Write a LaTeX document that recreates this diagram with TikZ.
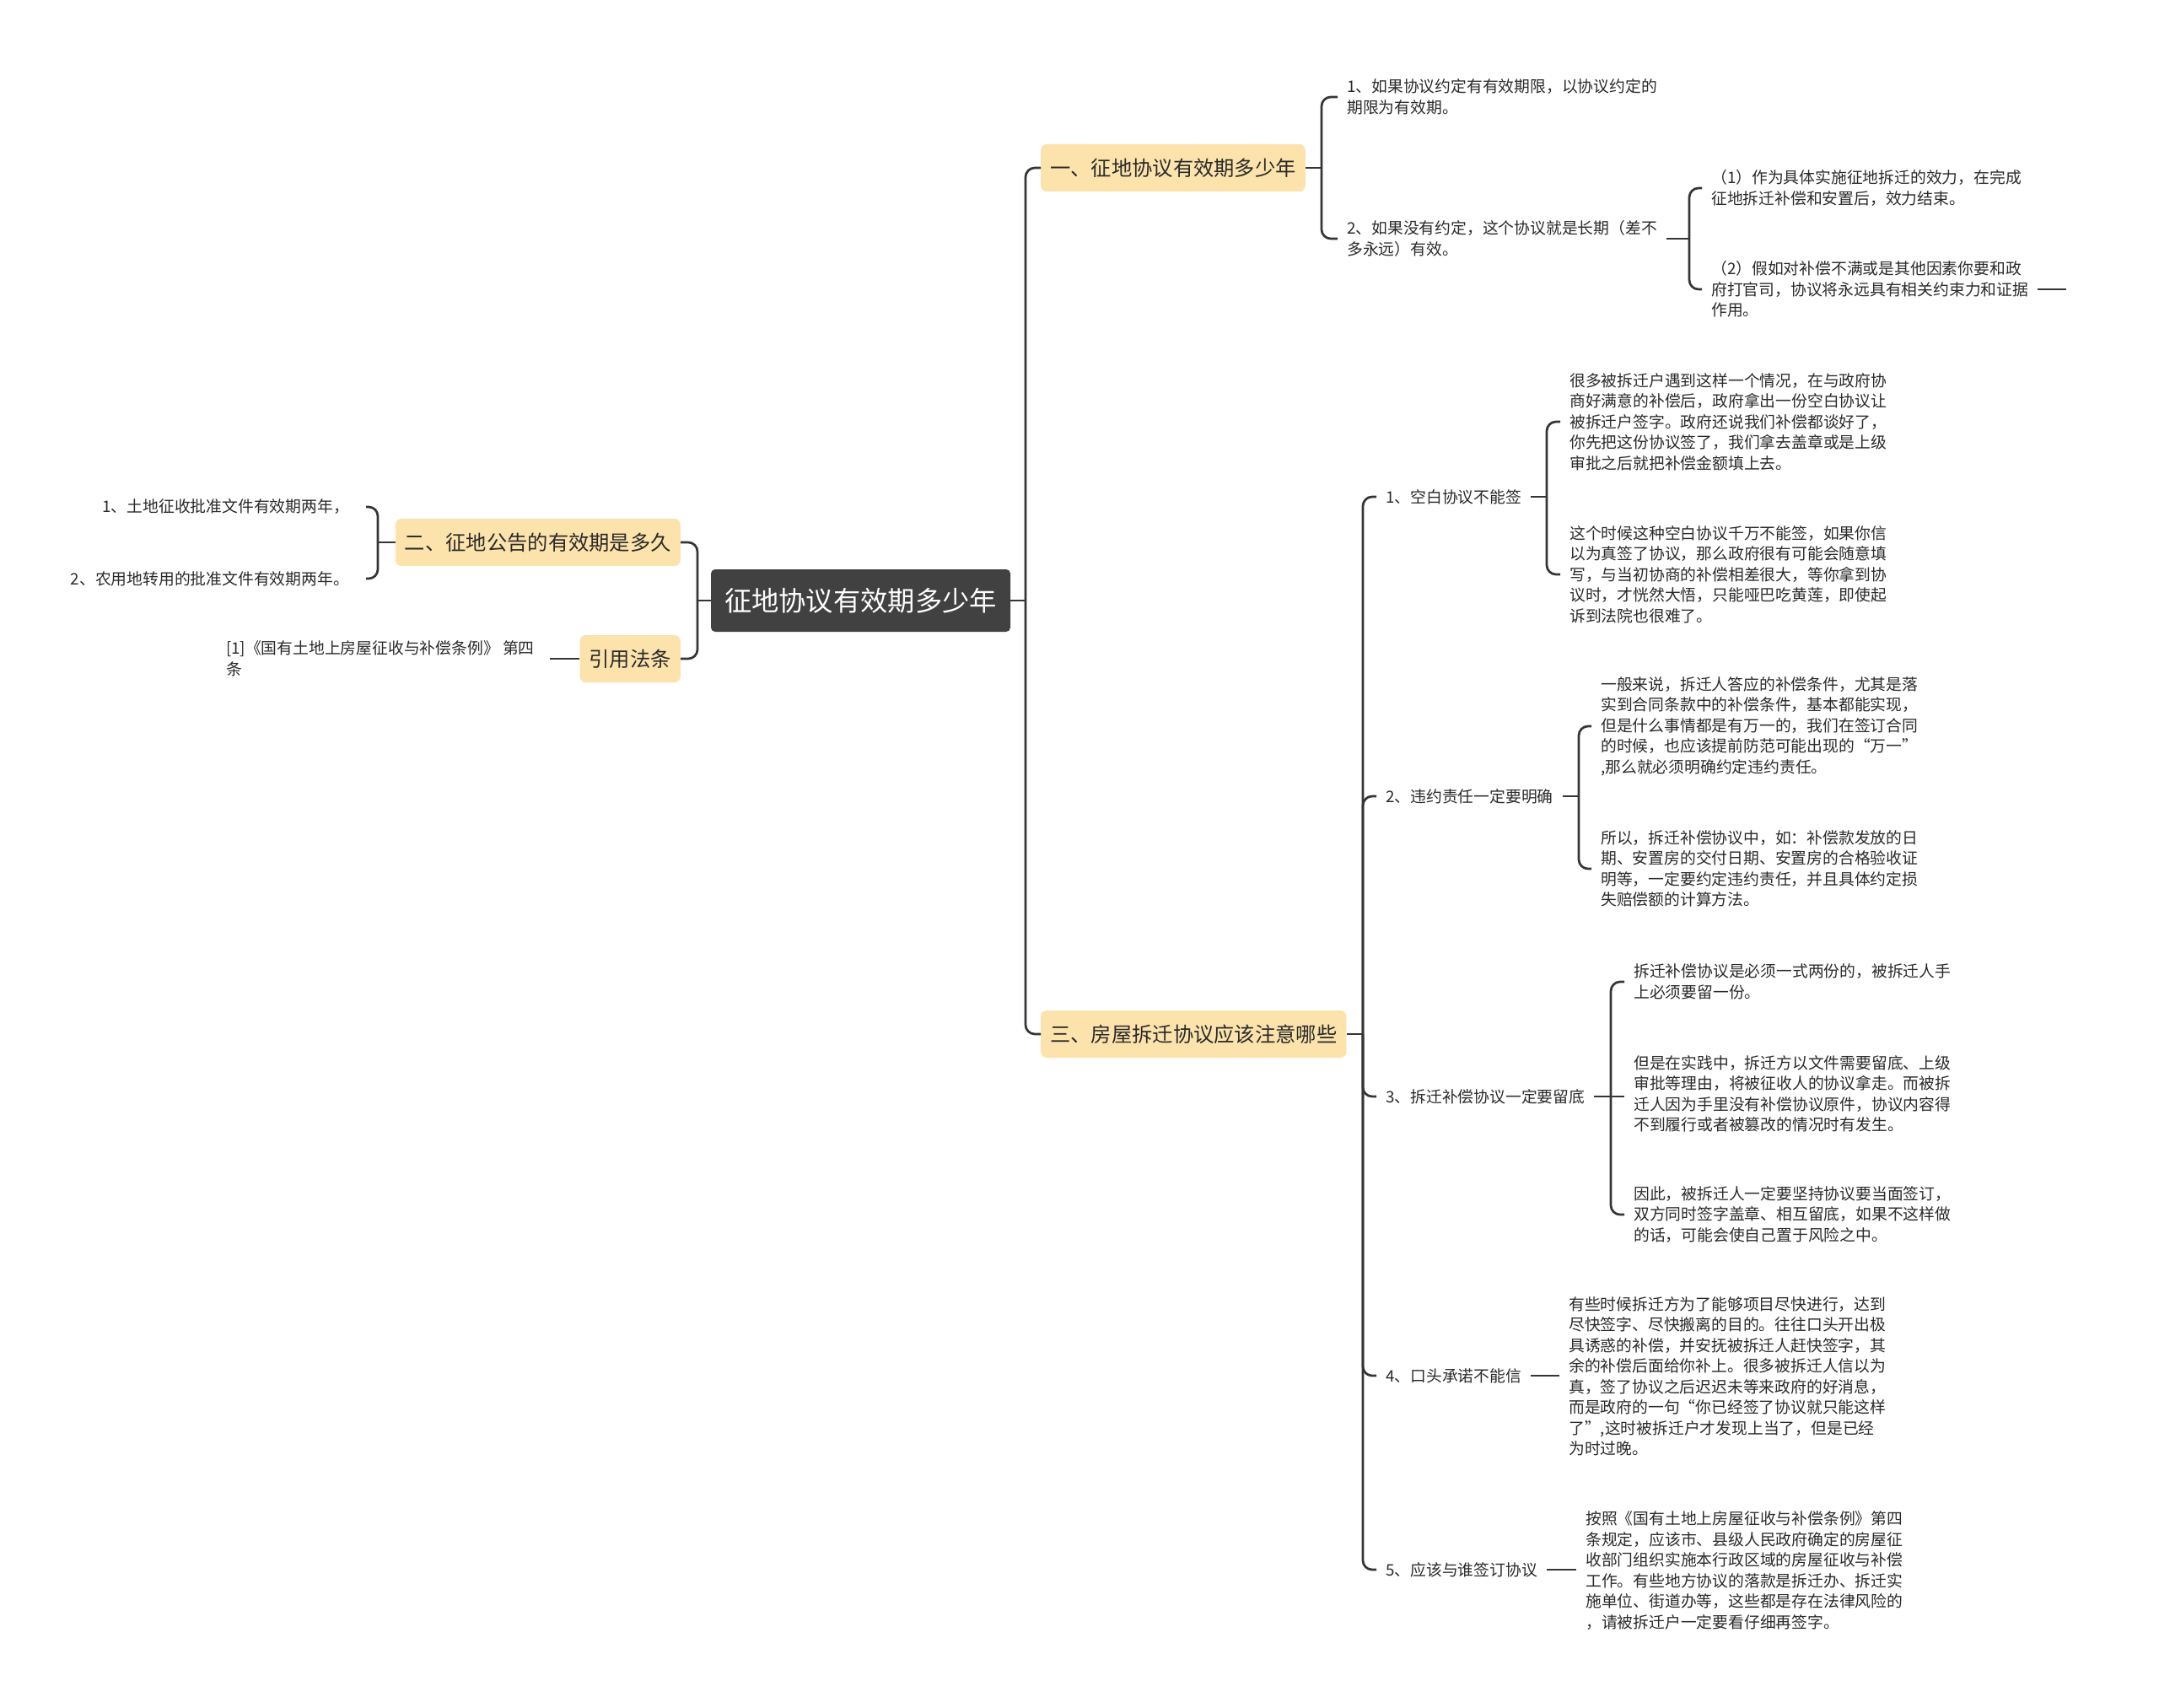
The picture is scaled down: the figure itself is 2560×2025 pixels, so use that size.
\documentclass[tikz,border=0pt]{standalone}
\usepackage{fontspec}
\setmainfont{Noto Sans CJK SC}
\definecolor{linec}{HTML}{353535}
\definecolor{rootc}{HTML}{414141}
\definecolor{topicc}{HTML}{FCE3AC}
\definecolor{textc}{HTML}{2A2A2A}
\tikzset{
  conn/.style={draw=linec, line width=2.7pt},
  rconn/.style={conn, rounded corners=11pt},
  rootbox/.style={fill=rootc, text=white, rounded corners=5pt, font=\fontsize{32.3}{36}\selectfont, minimum width=355pt, minimum height=74pt, inner sep=0pt},
  topic/.style={fill=topicc, text=textc, rounded corners=7pt, font=\fontsize{24.3}{28}\selectfont, minimum height=56pt, inner xsep=11pt, inner ysep=0pt},
  leaf/.style={text=textc, font=\fontsize{18.8}{24.5}\selectfont, align=left, inner xsep=11pt, inner ysep=1pt, anchor=west},
  leafr/.style={text=textc, font=\fontsize{18.8}{24.5}\selectfont, align=right, inner xsep=20pt, inner ysep=1pt, anchor=east}
}
\begin{document}
\begin{tikzpicture}[x=1pt,y=-1pt]
\useasboundingbox[fill=white] (0,0) rectangle (2560,2025);

% main nodes
\node[rootbox] (root) at (1020.5,712) {征地协议有效期多少年};
\node[topic,anchor=west] (n1) at (1234,199) {一、征地协议有效期多少年};
\node[topic,anchor=west] (n3) at (1234,1226) {三、房屋拆迁协议应该注意哪些};
\node[topic,anchor=east] (n2) at (807,643) {二、征地公告的有效期是多久};
\node[topic,anchor=east] (n4) at (807,781) {引用法条};

% branch one
\node[leaf] (a1) at (1586,115) {1、如果协议约定有有效期限，以协议约定的\\期限为有效期。};
\node[leaf] (a2) at (1586,283) {2、如果没有约定，这个协议就是长期（差不\\多永远）有效。};
\node[leaf] (g1) at (2018,223) {（1）作为具体实施征地拆迁的效力，在完成\\征地拆迁补偿和安置后，效力结束。};
\node[leaf] (g2) at (2018,343) {（2）假如对补偿不满或是其他因素你要和政\\府打官司，协议将永远具有相关约束力和证据\\作用。};

% branch three
\node[leaf] (b1) at (1632,589) {1、空白协议不能签};
\node[leaf] (b2) at (1632,944) {2、违约责任一定要明确};
\node[leaf] (b3) at (1632,1300) {3、拆迁补偿协议一定要留底};
\node[leaf] (b4) at (1632,1631) {4、口头承诺不能信};
\node[leaf] (b5) at (1632,1861) {5、应该与谁签订协议};

\node[leaf] (c1) at (1850,500) {很多被拆迁户遇到这样一个情况，在与政府协\\商好满意的补偿后，政府拿出一份空白协议让\\被拆迁户签字。政府还说我们补偿都谈好了，\\你先把这份协议签了，我们拿去盖章或是上级\\审批之后就把补偿金额填上去。};
\node[leaf] (c2) at (1850,681) {这个时候这种空白协议千万不能签，如果你信\\以为真签了协议，那么政府很有可能会随意填\\写，与当初协商的补偿相差很大，等你拿到协\\议时，才恍然大悟，只能哑巴吃黄莲，即使起\\诉到法院也很难了。};
\node[leaf] (c3) at (1887,861) {一般来说，拆迁人答应的补偿条件，尤其是落\\实到合同条款中的补偿条件，基本都能实现，\\但是什么事情都是有万一的，我们在签订合同\\的时候，也应该提前防范可能出现的“万一”\\,那么就必须明确约定违约责任。};
\node[leaf] (c4) at (1887,1030) {所以，拆迁补偿协议中，如：补偿款发放的日\\期、安置房的交付日期、安置房的合格验收证\\明等，一定要约定违约责任，并且具体约定损\\失赔偿额的计算方法。};
\node[leaf] (c5) at (1926,1164) {拆迁补偿协议是必须一式两份的，被拆迁人手\\上必须要留一份。};
\node[leaf] (c6) at (1926,1297) {但是在实践中，拆迁方以文件需要留底、上级\\审批等理由，将被征收人的协议拿走。而被拆\\迁人因为手里没有补偿协议原件，协议内容得\\不到履行或者被篡改的情况时有发生。};
\node[leaf] (c7) at (1926,1440) {因此，被拆迁人一定要坚持协议要当面签订，\\双方同时签字盖章、相互留底，如果不这样做\\的话，可能会使自己置于风险之中。};
\node[leaf] (c8) at (1849,1632) {有些时候拆迁方为了能够项目尽快进行，达到\\尽快签字、尽快搬离的目的。往往口头开出极\\具诱惑的补偿，并安抚被拆迁人赶快签字，其\\余的补偿后面给你补上。很多被拆迁人信以为\\真，签了协议之后迟迟未等来政府的好消息，\\而是政府的一句“你已经签了协议就只能这样\\了”,这时被拆迁户才发现上当了，但是已经\\为时过晚。};
\node[leaf] (c9) at (1869,1862) {按照《国有土地上房屋征收与补偿条例》第四\\条规定，应该市、县级人民政府确定的房屋征\\收部门组织实施本行政区域的房屋征收与补偿\\工作。有些地方协议的落款是拆迁办、拆迁实\\施单位、街道办等，这些都是存在法律风险的\\，请被拆迁户一定要看仔细再签字。};

% left side
\node[leafr] (d1) at (434,601) {1、土地征收批准文件有效期两年，};
\node[leafr] (d2) at (434,686) {2、农用地转用的批准文件有效期两年。};
\node[leafr,align=left,inner xsep=18pt] (d3) at (652,781) {[1]《国有土地上房屋征收与补偿条例》 第四\\条};

% connectors: root
\coordinate (jr) at (1216,712);
\draw[conn] (root.east) -- (jr);
\draw[rconn] (jr) |- (n1.west);
\draw[rconn] (jr) |- (n3.west);
\coordinate (jl) at (827,712);
\draw[conn] (root.west) -- (jl);
\draw[rconn] (jl) |- (n2.east);
\draw[rconn] (jl) |- (n4.east);

% branch one
\coordinate (jn1) at (1567,199);
\draw[conn] (n1.east) -- (jn1);
\draw[rconn] (jn1) |- (a1.west);
\draw[rconn] (jn1) |- (a2.west);
\coordinate (ja2) at (2003,283);
\draw[conn] (a2.east) -- (ja2);
\draw[rconn] (ja2) |- (g1.west);
\draw[rconn] (ja2) |- (g2.west);
\draw[conn] (g2.east) -- ++(34,0) coordinate (g2tail);

% branch three
\coordinate (jn3) at (1616,1226);
\draw[conn] (n3.east) -- (jn3);
\foreach \b in {b1,b2,b3,b4,b5} { \draw[rconn] (jn3) |- (\b.west); }
\coordinate (jb1) at (1834,589);
\draw[conn] (b1.east) -- (jb1);
\draw[rconn] (jb1) |- (c1.west);
\draw[rconn] (jb1) |- (c2.west);
\coordinate (jb2) at (1872,944);
\draw[conn] (b2.east) -- (jb2);
\draw[rconn] (jb2) |- (c3.west);
\draw[rconn] (jb2) |- (c4.west);
\coordinate (jb3) at (1910,1300);
\draw[conn] (b3.east) -- (jb3);
\draw[rconn] (jb3) |- (c5.west);
\draw[conn] (jb3) -- (jb3 -| c6.west);
\draw[rconn] (jb3) |- (c7.west);
\draw[conn] (b4.east) -- (b4.east -| c8.west);
\draw[conn] (b5.east) -- (b5.east -| c9.west);

% left side
\coordinate (jn2) at (448,643);
\draw[conn] (n2.west) -- (jn2);
\draw[rconn] (jn2) |- (d1.east);
\draw[rconn] (jn2) |- (d2.east);
\draw[conn] (n4.west) -- (d3.east);
\end{tikzpicture}
\end{document}
